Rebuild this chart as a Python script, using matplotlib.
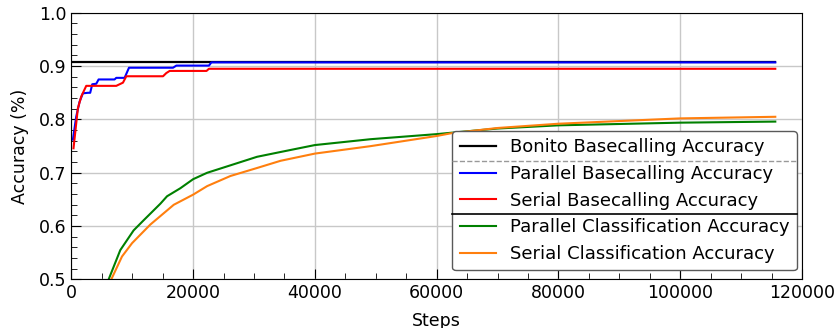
import numpy as np
import matplotlib
matplotlib.use("Agg")
import matplotlib.pyplot as plt
from matplotlib.lines import Line2D
from matplotlib.ticker import MultipleLocator

# values
bonito_steps = [0, 115600]
bonito_acc = [0.908, 0.908]

par_base_steps = [260, 800, 1350, 1900, 2730, 3100, 3440, 4100, 4480, 7100, 7380,
                  8750, 9470, 16700, 17250, 22600, 23000, 115600]
par_base_acc = [0.762, 0.805, 0.833, 0.849, 0.850, 0.850, 0.866, 0.867, 0.875, 0.875, 0.878,
                0.878, 0.897, 0.897, 0.901, 0.901, 0.907, 0.907]

ser_base_steps = [360, 1080, 1630, 2450, 7380, 8480, 9030, 15060, 15600, 16150,
                  22200, 22600, 115600]
ser_base_acc = [0.746, 0.821, 0.843, 0.863, 0.863, 0.869, 0.881, 0.881, 0.887, 0.891,
                0.891, 0.895, 0.895]

par_cls_steps = [5500, 6230, 8040, 10230, 11880, 14620, 15720, 17900, 20000, 22300,
                 26130, 30500, 34360, 40000, 49160, 60000, 62300, 70000, 80000,
                 100000, 115600]
par_cls_acc = [0.482, 0.503, 0.555, 0.592, 0.611, 0.642, 0.656, 0.671, 0.688, 0.700,
               0.714, 0.730, 0.739, 0.752, 0.763, 0.7725, 0.775, 0.783, 0.789,
               0.794, 0.796]

ser_cls_steps = [6000, 6680, 8320, 9970, 12980, 16820, 20000, 22300, 26130, 30500,
                 34360, 40000, 49160, 60000, 62300, 70000, 80000, 100000, 115600]
ser_cls_acc = [0.485, 0.503, 0.543, 0.568, 0.603, 0.640, 0.659, 0.675, 0.694, 0.709,
               0.7225, 0.736, 0.750, 0.769, 0.774, 0.784, 0.792, 0.802, 0.805]

fig = plt.figure(figsize=(8.39, 3.28), dpi=100)
ax = fig.add_axes([0.085, 0.148, 0.871, 0.813])

ax.plot(bonito_steps, bonito_acc, color='black', lw=1.6, label='Bonito Basecalling Accuracy')
ax.plot(par_base_steps, par_base_acc, color='blue', lw=1.5, label='Parallel Basecalling Accuracy')
ax.plot(ser_base_steps, ser_base_acc, color='red', lw=1.5, label='Serial Basecalling Accuracy')
ax.plot(par_cls_steps, par_cls_acc, color='green', lw=1.5, label='Parallel Classification Accuracy')
ax.plot(ser_cls_steps, ser_cls_acc, color='#ff7f0e', lw=1.5, label='Serial Classification Accuracy')

ax.set_xlim(0, 120000)
ax.set_ylim(0.5, 1.0)
ax.xaxis.set_major_locator(MultipleLocator(20000))
ax.xaxis.set_minor_locator(MultipleLocator(5000))
ax.yaxis.set_major_locator(MultipleLocator(0.1))
ax.yaxis.set_minor_locator(MultipleLocator(0.02))
ax.tick_params(which='both', direction='in', labelsize=12.5)
ax.tick_params(which='major', length=7)
ax.tick_params(which='minor', length=4)
ax.grid(True, which='major', color='#c8c8c8', lw=1)
ax.set_axisbelow(True)

ax.set_xlabel('Steps', fontsize=12.5, labelpad=7)
ax.set_ylabel('Accuracy (%)', fontsize=12.5, labelpad=7)

leg = ax.legend(loc='lower right', bbox_to_anchor=(0.993, 0.035), borderaxespad=0,
                fontsize=13, labelspacing=0.48, framealpha=1, edgecolor='0.35')
leg.get_frame().set_linewidth(1.0)

# separator lines inside the legend
fig.canvas.draw()
texts = leg.get_texts()
frame = leg.get_frame().get_window_extent()
inv = fig.transFigure.inverted()


def separator(i, **kw):
    b1 = texts[i].get_window_extent()
    b2 = texts[i + 1].get_window_extent()
    y = (b1.y0 + b2.y1) / 2
    (x0, yy), (x1, _) = inv.transform([(frame.x0, y), (frame.x1, y)])
    fig.add_artist(Line2D([x0, x1], [yy, yy], transform=fig.transFigure, zorder=10, **kw))


separator(0, color='0.6', lw=1, ls='--')
separator(2, color='black', lw=1.2)

fig.savefig('out.png', dpi=100)
